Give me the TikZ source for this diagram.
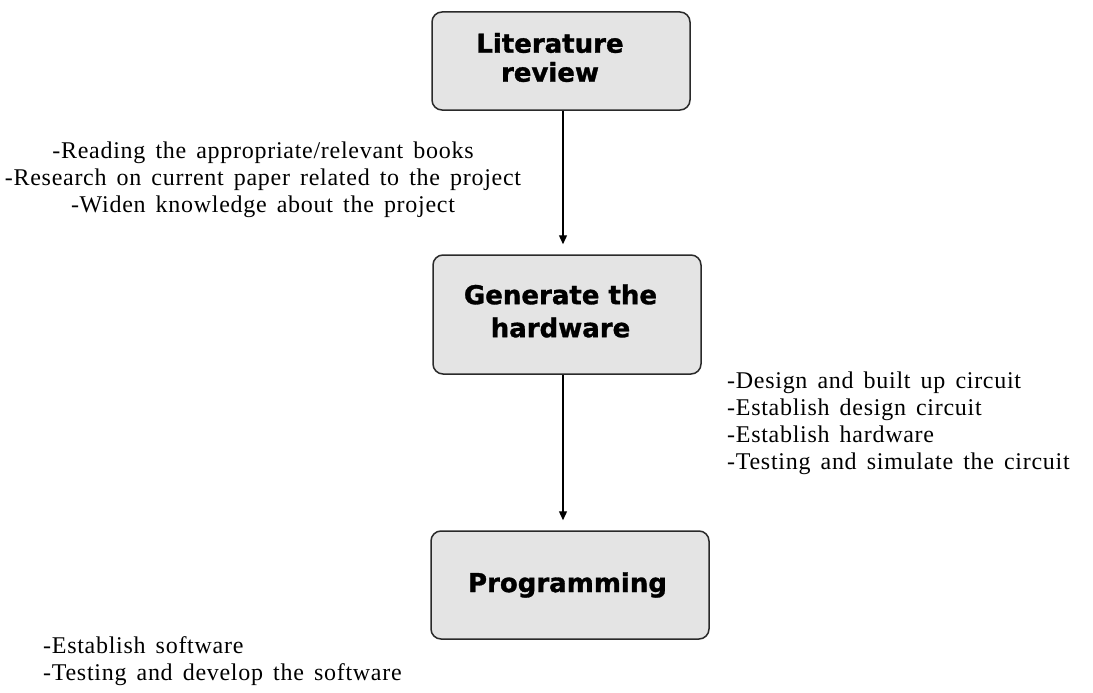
\documentclass[tikz,border=0pt]{standalone}
\usepackage{fontspec}
\setmainfont{Liberation Serif}
\newfontfamily\boxfont{DejaVu Sans}[BoldFeatures={FakeBold=1.2}]
\newfontfamily\notefont{Liberation Serif}[LetterSpace=3,WordSpace=1.5]
\usetikzlibrary{arrows.meta}
\definecolor{boxfill}{HTML}{E4E4E4}
\definecolor{boxline}{HTML}{2A2A2A}
\tikzset{
  stage/.style={draw=boxline, line width=1.5pt, fill=boxfill, rounded corners=10pt,
    inner sep=0pt, align=center,
    font=\boxfont\bfseries\fontsize{26}{31}\selectfont},
  note/.style={inner sep=0pt, font=\notefont\fontsize{24}{27}\selectfont},
  flow/.style={line width=1.3pt, -{Triangle[length=9pt,width=8pt]}, shorten >=10pt},
}
\begin{document}
\begin{tikzpicture}[x=1pt,y=-1pt]
\useasboundingbox (0,0) rectangle (1093,693);

% process stages
\node[stage, minimum width=258pt, minimum height=98pt] (lit) at (561,61)
  {\hspace*{-22pt}\begin{tabular}{@{}c@{}}Literature\\[-2pt]review\end{tabular}};
\node[stage, minimum width=268pt, minimum height=119pt] (hw) at (567,314.5)
  {\hspace*{-13pt}\begin{tabular}{@{}c@{}}Generate the\\[2pt]hardware\end{tabular}};
\node[stage, minimum width=278pt, minimum height=108pt] (prog) at (570,585)
  {\hspace*{-5pt}Programming};

% arrows between stages
\coordinate (ax) at (563,0);
\draw[flow] (lit.south -| ax) -- (hw.north -| ax);
\draw[flow] (hw.south -| ax) -- (prog.north -| ax);

% activity notes
\node[note, align=center] (n1) at (263,180)
  {-Reading the appropriate/relevant books\\
   -Research on current paper related to the project\\
   -Widen knowledge about the project};
\node[note, align=left, anchor=west] (n2) at (727,423)
  {-Design and built up circuit\\
   -Establish design circuit\\
   -Establish hardware\\
   -Testing and simulate the circuit};
\node[note, align=left, anchor=west] (n3) at (43,661.5)
  {-Establish software\\
   -Testing and develop the software};
\end{tikzpicture}
\end{document}
